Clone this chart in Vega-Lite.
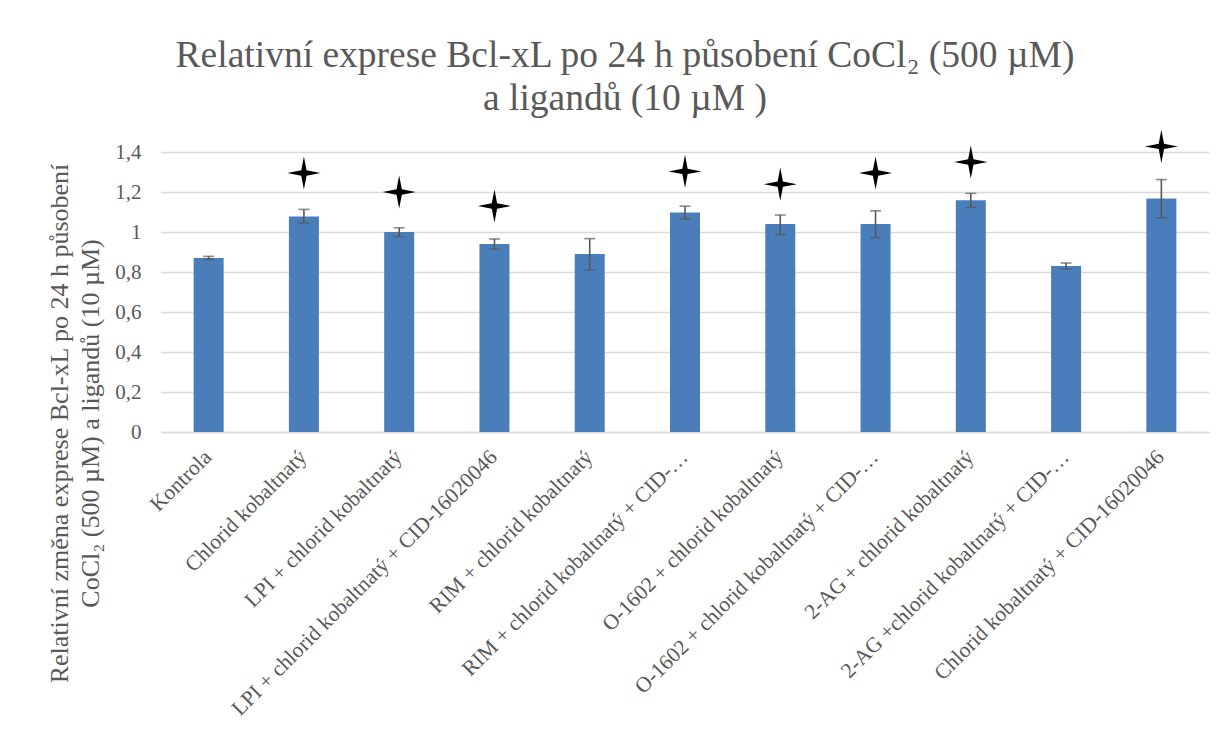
{
  "$schema": "https://vega.github.io/schema/vega-lite/v6.json",
  "autosize": "none",
  "width": 1048,
  "height": 280,
  "padding": {"left": 161, "top": 152, "right": 19, "bottom": 299},
  "background": "white",
  "config": {
    "view": {"stroke": null},
    "font": "Liberation Serif",
    "title": {"font": "Liberation Serif", "fontWeight": "normal"},
    "axisY": {
      "labelOverlap": false,
      "labelFont": "Liberation Serif",
      "labelFontSize": 21,
      "labelColor": "#595959",
      "labelPadding": 20,
      "ticks": false,
      "domain": false,
      "gridColor": "#d9d9d9",
      "gridWidth": 1.3
    },
    "axisX": {
      "labelOverlap": false,
      "labelAngle": -45,
      "labelAlign": "right",
      "labelBaseline": "top",
      "labelFont": "Liberation Serif",
      "labelFontSize": 21.5,
      "labelColor": "#595959",
      "labelLimit": 500,
      "labelPadding": 14,
      "labelOffset": -8,
      "ticks": false,
      "domainColor": "#d9d9d9",
      "domainWidth": 1.3,
      "grid": false
    }
  },
  "title": {
    "text": ["Relativní exprese Bcl-xL po 24 h působení CoCl₂ (500 µM)", "a ligandů (10 µM )"],
    "font": "Liberation Serif",
    "fontSize": 37.5,
    "fontWeight": "normal",
    "color": "#595959",
    "anchor": "middle",
    "frame": "group",
    "dx": -60,
    "lineHeight": 43,
    "offset": 12
  },
  "data": {
    "values": [
      {"name": "Kontrola", "value": 0.87, "lo": 0.862, "hi": 0.878, "star": null},
      {"name": "Chlorid kobaltnatý", "value": 1.078, "lo": 1.045, "hi": 1.113, "star": 1.295},
      {"name": "LPI + chlorid kobaltnatý", "value": 1.0, "lo": 0.977, "hi": 1.021, "star": 1.2},
      {"name": "LPI + chlorid kobaltnatý + CID-16020046", "value": 0.94, "lo": 0.915, "hi": 0.965, "star": 1.13},
      {"name": "RIM + chlorid kobaltnatý", "value": 0.89, "lo": 0.81, "hi": 0.967, "star": null},
      {"name": "RIM + chlorid kobaltnatý + CID-…", "value": 1.098, "lo": 1.065, "hi": 1.129, "star": 1.303},
      {"name": "O-1602 + chlorid kobaltnatý", "value": 1.04, "lo": 0.987, "hi": 1.085, "star": 1.239},
      {"name": "O-1602 + chlorid kobaltnatý + CID-…", "value": 1.04, "lo": 0.972, "hi": 1.106, "star": 1.295},
      {"name": "2-AG + chlorid kobaltnatý", "value": 1.159, "lo": 1.123, "hi": 1.193, "star": 1.35},
      {"name": "2-AG +chlorid kobaltnatý + CID-…", "value": 0.83, "lo": 0.815, "hi": 0.845, "star": null},
      {"name": "Chlorid kobaltnatý + CID-16020046", "value": 1.168, "lo": 1.071, "hi": 1.262, "star": 1.428}
    ]
  },
  "encoding": {
    "x": {
      "field": "name",
      "type": "nominal",
      "sort": null,
      "scale": {"paddingInner": 0.685, "paddingOuter": 0.3425},
      "axis": {"title": null}
    }
  },
  "layer": [
    {
      "mark": {"type": "bar", "color": "#4a7ebb"},
      "encoding": {
        "y": {
          "field": "value",
          "type": "quantitative",
          "scale": {"domain": [0, 1.4], "nice": false},
          "axis": {
            "title": ["Relativní změna exprese Bcl-xL po 24 h působení", "CoCl₂ (500 µM) a ligandů (10 µM)"],
            "titleFont": "Liberation Serif",
            "titleFontSize": 26,
            "titleFontWeight": "normal",
            "titleColor": "#595959",
            "titleLineHeight": 31,
            "titleAngle": -90,
            "titleAlign": "center",
            "titleBaseline": "top",
            "titleX": -115,
            "titleY": 271,
            "values": [0, 0.2, 0.4, 0.6, 0.8, 1, 1.2, 1.4],
            "labelOverlap": false,
            "labelExpr": "replace(format(datum.value, '~g'), '.', ',')"
          }
        }
      }
    },
    {
      "mark": {"type": "rule", "color": "#595959", "strokeWidth": 1.6},
      "encoding": {
        "y": {"field": "lo", "type": "quantitative", "scale": {"domain": [0, 1.4], "nice": false},
          "axis": {
            "title": ["Relativní změna exprese Bcl-xL po 24 h působení", "CoCl₂ (500 µM) a ligandů (10 µM)"],
            "values": [0, 0.2, 0.4, 0.6, 0.8, 1, 1.2, 1.4],
            "labelOverlap": false,
            "labelExpr": "replace(format(datum.value, '~g'), '.', ',')"
          }},
        "y2": {"field": "hi"}
      }
    },
    {
      "mark": {"type": "tick", "color": "#595959", "thickness": 1.6, "size": 11, "orient": "horizontal"},
      "encoding": {"y": {"field": "lo", "type": "quantitative", "scale": {"domain": [0, 1.4], "nice": false},
          "axis": {
            "title": ["Relativní změna exprese Bcl-xL po 24 h působení", "CoCl₂ (500 µM) a ligandů (10 µM)"],
            "values": [0, 0.2, 0.4, 0.6, 0.8, 1, 1.2, 1.4],
            "labelOverlap": false,
            "labelExpr": "replace(format(datum.value, '~g'), '.', ',')"
          }}}
    },
    {
      "mark": {"type": "tick", "color": "#595959", "thickness": 1.6, "size": 11, "orient": "horizontal"},
      "encoding": {"y": {"field": "hi", "type": "quantitative", "scale": {"domain": [0, 1.4], "nice": false},
          "axis": {
            "title": ["Relativní změna exprese Bcl-xL po 24 h působení", "CoCl₂ (500 µM) a ligandů (10 µM)"],
            "values": [0, 0.2, 0.4, 0.6, 0.8, 1, 1.2, 1.4],
            "labelOverlap": false,
            "labelExpr": "replace(format(datum.value, '~g'), '.', ',')"
          }}}
    },
    {
      "transform": [{"filter": "datum.star != null"}],
      "mark": {
        "type": "point",
        "shape": "M0,-1L0.16,-0.16L1,0L0.16,0.16L0,1L-0.16,0.16L-1,0L-0.16,-0.16Z",
        "filled": true,
        "color": "black",
        "opacity": 1,
        "size": 1100
      },
      "encoding": {"y": {"field": "star", "type": "quantitative", "scale": {"domain": [0, 1.4], "nice": false},
          "axis": {
            "title": ["Relativní změna exprese Bcl-xL po 24 h působení", "CoCl₂ (500 µM) a ligandů (10 µM)"],
            "values": [0, 0.2, 0.4, 0.6, 0.8, 1, 1.2, 1.4],
            "labelOverlap": false,
            "labelExpr": "replace(format(datum.value, '~g'), '.', ',')"
          }}}
    }
  ]
}
